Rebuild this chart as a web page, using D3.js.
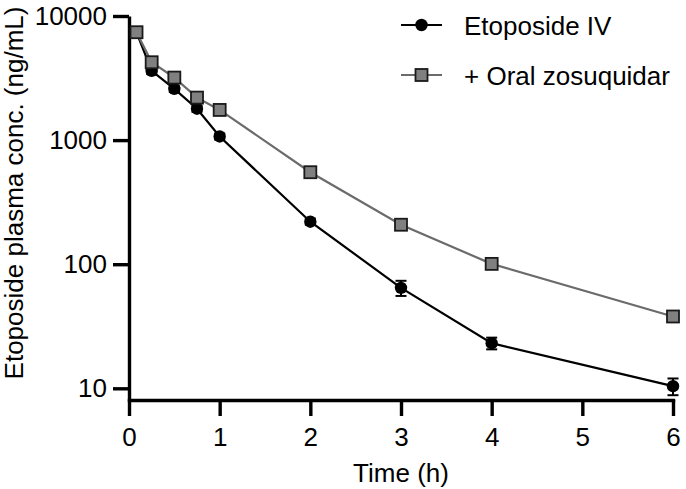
<!DOCTYPE html>
<html>
<head>
<meta charset="utf-8">
<script src="https://cdn.jsdelivr.net/npm/d3@7"></script>
<style>
  body { margin: 0; background: #fff; }
  svg { display: block; font-family: "Liberation Sans", Arial, sans-serif; }
</style>
</head>
<body>
<div id="chart"></div>
<script>
// data (mean, sd)
const times = [0.083, 0.25, 0.5, 0.75, 1, 2, 3, 4, 6];
const ivMean = [7400, 3610, 2590, 1790, 1070, 220, 64.5, 23.1, 10.4];
const ivSd = [400, 200, 150, 100, 60, 12, 9, 2.5, 1.6];
const zosMean = [7400, 4240, 3190, 2200, 1750, 551, 208, 100.6, 37.9];
const zosSd = [400, 250, 180, 120, 100, 30, 12, 5, 2.5];
const seriesNames = ['Etoposide IV', '+ Oral zosuquidar'];
const xTicks = [0, 1, 2, 3, 4, 5, 6];
const yTicks = [10, 100, 1000, 10000];

const width = 686, height = 489;
const fontSize = 26;

const svg = d3.select('#chart').append('svg')
  .attr('width', width).attr('height', height);

// scales
const x = d3.scaleLinear().domain([0, 6]).range([129, 673]);
const y = d3.scaleLog().domain([8.05, 10000]).range([400, 16]);

// axes
const xAxis = d3.axisBottom(x).tickValues(xTicks).tickSize(16).tickSizeOuter(0).tickPadding(12)
  .tickFormat(d3.format('d'));
const yAxis = d3.axisLeft(y).tickValues(yTicks).tickSize(16).tickSizeOuter(0).tickPadding(6)
  .tickFormat(d3.format('d'));

const gx = svg.append('g').attr('transform', `translate(0, ${y.range()[0]})`).call(xAxis);
const gy = svg.append('g').attr('transform', `translate(${x(0)}, 0)`).call(yAxis);

[gx, gy].forEach(g => {
  g.attr('font-size', fontSize).attr('font-family', null);
  g.selectAll('path, line').attr('stroke', '#000').attr('stroke-width', 3.4);
  g.selectAll('text').attr('fill', '#000');
});
gx.select('.domain').attr('stroke-linecap', 'square');

// axis titles
svg.append('text')
  .attr('x', (x(0) + x(6)) / 2).attr('y', 482)
  .attr('text-anchor', 'middle').style('font-size', fontSize + 'px')
  .text('Time (h)');

svg.append('text')
  .attr('transform', 'translate(23, 193) rotate(-90)')
  .attr('text-anchor', 'middle').style('font-size', fontSize + 'px')
  .text('Etoposide plasma conc. (ng/mL)');

// build series
const ivData = times.map((t, i) => ({ t: t, m: ivMean[i], sd: ivSd[i] }));
const zosData = times.map((t, i) => ({ t: t, m: zosMean[i], sd: zosSd[i] }));

const line = d3.line().x(d => x(d.t)).y(d => y(d.m));

function drawSeries(data, lineColor, shape) {
  svg.append('path').datum(data)
    .attr('fill', 'none').attr('stroke', lineColor).attr('stroke-width', 2.2)
    .attr('d', line);

  // error bars
  const eb = svg.append('g').attr('stroke', '#000').attr('stroke-width', 2);
  data.forEach(d => {
    const cx = x(d.t), y1 = y(d.m + d.sd), y2 = y(d.m - d.sd);
    eb.append('line').attr('x1', cx).attr('x2', cx).attr('y1', y1).attr('y2', y2);
    eb.append('line').attr('x1', cx - 5.5).attr('x2', cx + 5.5).attr('y1', y1).attr('y2', y1);
    eb.append('line').attr('x1', cx - 5.5).attr('x2', cx + 5.5).attr('y1', y2).attr('y2', y2);
  });

  drawMarkers(svg.append('g'), data.map(d => [x(d.t), y(d.m)]), shape);
}

function drawMarkers(g, pts, shape) {
  if (shape === 'circle') {
    g.selectAll('circle').data(pts).enter().append('circle')
      .attr('cx', d => d[0]).attr('cy', d => d[1]).attr('r', 6.2)
      .attr('fill', '#000');
  } else {
    g.selectAll('rect').data(pts).enter().append('rect')
      .attr('x', d => d[0] - 6).attr('y', d => d[1] - 6)
      .attr('width', 12).attr('height', 12)
      .attr('fill', '#808080').attr('stroke', '#1a1a1a').attr('stroke-width', 1.8);
  }
}

drawSeries(ivData, '#000', 'circle');
drawSeries(zosData, '#6b6b6b', 'square');

// legend
const legend = [
  { name: seriesNames[0], color: '#000', shape: 'circle', y: 25 },
  { name: seriesNames[1], color: '#6b6b6b', shape: 'square', y: 75 }
];
legend.forEach(l => {
  svg.append('line').attr('x1', 401).attr('x2', 442).attr('y1', l.y).attr('y2', l.y)
    .attr('stroke', l.color).attr('stroke-width', 2.2);
  drawMarkers(svg.append('g'), [[421.5, l.y]], l.shape);
  svg.append('text').attr('x', 464).attr('y', l.y + 10)
    .style('font-size', fontSize + 'px').text(l.name);
});
</script>
</body>
</html>
